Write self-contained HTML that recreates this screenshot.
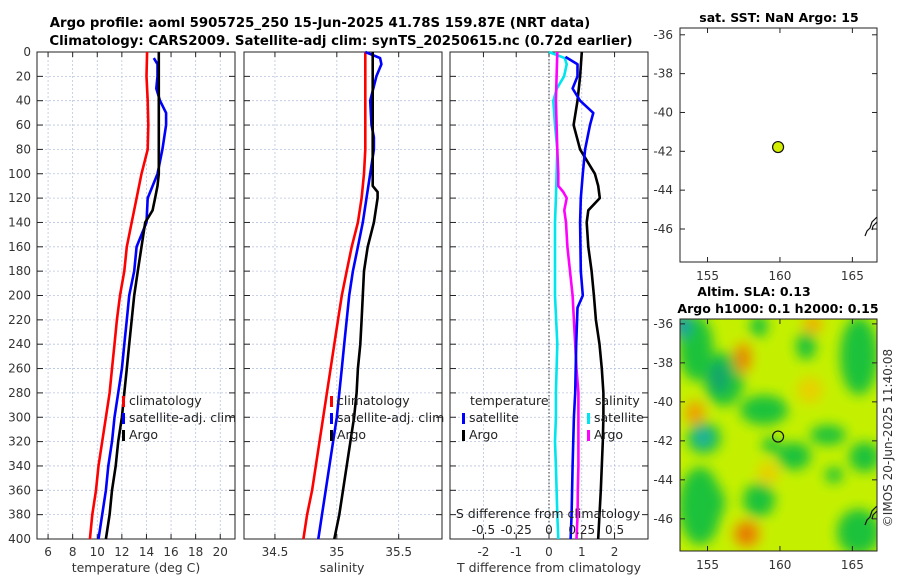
<!DOCTYPE html>
<html><head><meta charset="utf-8"><style>
body{margin:0;background:#fff;}
svg{display:block;font-family:"DejaVu Sans","Liberation Sans",sans-serif;}
</style></head><body>
<svg id="fig" width="900" height="580" viewBox="0 0 900 580">
<defs>
<filter id="blur" x="-20%" y="-20%" width="140%" height="140%"><feGaussianBlur stdDeviation="6"/></filter>
<clipPath id="mapclip"><rect x="680" y="319" width="197" height="232"/></clipPath>
</defs>
<text x="320" y="27" text-anchor="middle" font-weight="bold" font-size="13.3">Argo profile: aoml 5905725_250 15-Jun-2025 41.78S 159.87E (NRT data)</text>
<text x="341" y="45" text-anchor="middle" font-weight="bold" font-size="13.3">Climatology: CARS2009. Satellite-adj clim: synTS_20250615.nc (0.72d earlier)</text>
<g id="plots"></g>
</svg>
<script>
const depths=[0,20,40,60,80,100,120,140,160,180,200,220,240,260,280,300,320,340,360,380,400];
// temperature panel
const tClimD=[0,20,40,60,80,100,120,140,160,180,200,220,240,260,280,300,320,340,360,380,400];
const tClim=[14.05,14.0,14.1,14.15,14.1,13.6,13.2,12.8,12.4,12.2,11.85,11.6,11.4,11.2,11.0,10.7,10.4,10.1,9.9,9.6,9.4];
const tSatD=[5,10,20,30,40,50,60,80,100,120,140,160,180,200,220,240,260,280,300,320,340,360,380,400];
const tSat=[14.6,14.9,14.9,14.8,15.1,15.6,15.6,15.3,14.9,14.1,14.0,13.2,13.0,12.6,12.4,12.2,12.0,11.7,11.4,11.2,10.9,10.7,10.4,10.1];
const tArgoD=[0,20,40,60,80,100,110,120,130,140,160,180,200,220,240,260,280,300,320,340,360,380,400];
const tArgo=[15.0,15.0,15.0,15.0,15.0,15.0,14.9,14.7,14.5,13.9,13.6,13.3,13.0,12.8,12.6,12.4,12.2,12.0,11.7,11.5,11.2,11.0,10.7];
// salinity panel
const sClim=[35.23,35.23,35.23,35.23,35.23,35.22,35.20,35.17,35.12,35.08,35.04,35.01,34.98,34.95,34.92,34.89,34.86,34.83,34.80,34.76,34.73];
const sSatD=[0,5,10,20,40,60,70,80,100,120,140,160,180,200,220,240,260,280,300,320,340,360,380,400];
const sSat=[35.23,35.35,35.36,35.32,35.27,35.28,35.30,35.30,35.27,35.24,35.21,35.17,35.13,35.10,35.08,35.06,35.04,35.02,35.00,34.97,34.94,34.91,34.88,34.85];
const sArgoD=[0,20,40,60,80,100,110,115,120,140,160,180,200,220,240,260,280,300,320,340,360,380,400];
const sArgo=[35.29,35.29,35.29,35.29,35.29,35.29,35.29,35.33,35.33,35.30,35.25,35.22,35.21,35.20,35.19,35.17,35.16,35.14,35.11,35.08,35.05,35.02,34.98];
// difference panel
const dTSatD=[4,10,20,30,40,50,60,80,100,120,140,180,200,210,240,280,300,340,380,400];
const dTSat=[0.5,0.87,0.87,0.72,0.95,1.35,1.25,1.10,1.03,0.97,0.95,0.97,1.03,0.87,0.83,0.80,0.76,0.72,0.69,0.66];
const dTArgoD=[0,20,40,60,80,100,110,120,130,140,160,180,200,220,240,260,280,300,320,340,360,380,400];
const dTArgo=[1.0,0.95,0.87,0.75,0.95,1.40,1.50,1.55,1.20,1.15,1.20,1.30,1.37,1.43,1.54,1.61,1.66,1.66,1.64,1.61,1.58,1.54,1.50];
const dSSatD=[0,5,10,20,30,40,60,80,100,120,140,160,200,240,260,280,300,320,340,360,380,400];
const dSSat=[0.0,0.12,0.135,0.115,0.06,0.033,0.046,0.063,0.058,0.053,0.046,0.046,0.046,0.063,0.058,0.053,0.053,0.046,0.053,0.058,0.063,0.071];
const dSArgoD=[0,20,40,60,80,100,110,115,120,130,140,160,180,200,220,240,260,280,300,320,340,360,380,400];
const dSArgo=[0.063,0.058,0.053,0.058,0.063,0.071,0.071,0.109,0.135,0.117,0.13,0.14,0.16,0.18,0.19,0.2,0.21,0.224,0.224,0.224,0.224,0.22,0.218,0.21];
const tTicks=[6,8,10,12,14,16,18,20];
const sTicks=[34.5,35,35.5];
const dTTicks=[-2,-1,0,1,2];
const dSTicks=[-0.5,-0.25,0,0.25,0.5];
const lonTicks=[155,160,165];
const latTicks=[-36,-38,-40,-42,-44,-46];
const argoLon=159.87, argoLat=-41.78;

const NS='http://www.w3.org/2000/svg';
const root=document.getElementById('plots');
function el(tag,attrs,parent,text){const e=document.createElementNS(NS,tag);for(const k in attrs)e.setAttribute(k,attrs[k]);if(text!==undefined)e.textContent=text;(parent||root).appendChild(e);return e;}
const Y0=52,Y1=539;
const yD=d=>Y0+(d/400)*(Y1-Y0);
function xScale(x0,x1,v0,v1){return v=>x0+(v-v0)/(v1-v0)*(x1-x0);}
const xT=xScale(37,235,5.1,21.2);
const xS=xScale(244,442,34.25,35.85);
const xDT=xScale(450,648,-3.02,3.02);
const xDS=xScale(450,648,-0.755,0.755);

function frame(x0,x1,xs,ticks,name){
  const g=el('g',{});
  
  
  for(let d=20;d<400;d+=20){el('line',{x1:x0,x2:x1,y1:yD(d),y2:yD(d),stroke:'#b8c4e0','stroke-width':0.8,'stroke-dasharray':'2,2'},g);}
  ticks.forEach(t=>{el('line',{x1:xs(t),x2:xs(t),y1:Y0,y2:Y1,stroke:'#b8c4e0','stroke-width':0.8,'stroke-dasharray':'2,2'},g);
    el('line',{x1:xs(t),x2:xs(t),y1:Y1,y2:Y1-5,stroke:'#222'},g);el('line',{x1:xs(t),x2:xs(t),y1:Y0,y2:Y0+5,stroke:'#222'},g);});
  for(let d=0;d<=400;d+=20){el('line',{x1:x0,x2:x0+6,y1:yD(d),y2:yD(d),stroke:'#222'},g);el('line',{x1:x1,x2:x1-6,y1:yD(d),y2:yD(d),stroke:'#222'},g);}
  el('rect',{x:x0,y:Y0,width:x1-x0,height:Y1-Y0,fill:'none',stroke:'#222','stroke-width':1},g);
  return g;
}
function line(xs,vals,ds,color,name){
  const p=el('polyline',{points:vals.map((v,i)=>xs(v).toFixed(1)+','+yD(ds[i]).toFixed(1)).join(' '),fill:'none',stroke:color,'stroke-width':2.6,'stroke-linejoin':'round'});
  
  
}
function txt(x,y,s,opts,name){const t=el('text',Object.assign({x:x,y:y,'font-size':12,fill:'#333'},opts||{}),root,s);return t;}
function legend(x,y,color,label,name){
  const r=el('rect',{x:x,y:y-9,width:3,height:11,fill:color});
  
  txt(x+7,y,label,{fill:'#222','font-size':12.5},name);
}

frame(37,235,xT,tTicks,'temperature-panel');
for(let d=0;d<=400;d+=20)txt(31,yD(d)+4,String(d),{'text-anchor':'end'},'depth-tick-label');
tTicks.forEach(t=>txt(xT(t),556,String(t),{'text-anchor':'middle'},'temperature-tick-label'));
txt(136,572,'temperature (deg C)',{'text-anchor':'middle','font-size':12.5},'temperature-axis-title');
line(xT,tClim,tClimD,'#ff0000','temperature-climatology-line');
line(xT,tSat,tSatD,'#0000ff','temperature-satellite-line');
line(xT,tArgo,tArgoD,'#000000','temperature-argo-line');
legend(122,405,'#ff0000','climatology','legend-climatology');
legend(122,422,'#0000ff','satellite-adj. clim','legend-satellite-adj');
legend(122,439,'#000000','Argo','legend-argo');

frame(244,442,xS,sTicks,'salinity-panel');
sTicks.forEach(t=>txt(xS(t),556,String(t),{'text-anchor':'middle'},'salinity-tick-label'));
txt(342,572,'salinity',{'text-anchor':'middle','font-size':12.5},'salinity-axis-title');
line(xS,sClim,depths,'#ff0000','salinity-climatology-line');
line(xS,sSat,sSatD,'#0000ff','salinity-satellite-line');
line(xS,sArgo,sArgoD,'#000000','salinity-argo-line');
legend(330,405,'#ff0000','climatology','legend-s-climatology');
legend(330,422,'#0000ff','satellite-adj. clim','legend-s-satellite-adj');
legend(330,439,'#000000','Argo','legend-s-argo');

frame(450,648,xDT,dTTicks,'difference-panel');
const z=el('line',{x1:xDT(0),x2:xDT(0),y1:Y0,y2:Y1,stroke:'#555','stroke-width':1.2,'stroke-dasharray':'1.5,2'});

dTTicks.forEach(t=>txt(xDT(t),556,String(t),{'text-anchor':'middle'},'t-diff-tick-label'));
txt(549,572,'T difference from climatology',{'text-anchor':'middle','font-size':12.5},'t-diff-axis-title');
line(xDS,dSSat,dSSatD,'#00e5ee','s-diff-satellite-line');
line(xDS,dSArgo,dSArgoD,'#ff00ff','s-diff-argo-line');
line(xDT,dTArgo,dTArgoD,'#000000','t-diff-argo-line');
line(xDT,dTSat,dTSatD,'#0000ff','t-diff-satellite-line');
txt(548,518,'S difference from climatology',{'text-anchor':'middle','font-size':12.5,fill:'#222'},'s-diff-axis-title');
dSTicks.forEach(t=>txt(xDS(t),534,String(t),{'text-anchor':'middle','fill':'#222'},'s-diff-tick-label'));
txt(470,405,'temperature',{fill:'#222','font-size':12.5},'legend-temperature-heading');
legend(462,422,'#0000ff','satellite','legend-t-satellite');
legend(462,439,'#000000','Argo','legend-t-argo');
txt(595,405,'salinity',{fill:'#222','font-size':12.5},'legend-salinity-heading');
legend(587,422,'#00e5ee','satellite','legend-s-satellite');
legend(587,439,'#ff00ff','Argo','legend-s-argo-diff');

function mapFrame(y0,y1,lat0,lat1){
  const xL=xScale(680,877,153.1,166.7);
  const yL=v=>y0+(lat0-v)/(lat0-lat1)*(y1-y0);
  return {xL,yL};
}
const m1=mapFrame(28,262,-35.65,-47.7);
const r1=el('rect',{x:680,y:28,width:197,height:234,fill:'#fff',stroke:'#222'});

const m2=mapFrame(319,551,-35.75,-47.65);
const mg=el('g',{'clip-path':'url(#mapclip)'});

el('rect',{x:680,y:319,width:197,height:232,fill:'#c4f000'},mg);
const bg=el('g',{filter:'url(#blur)'},mg);
const blobs=[['#1fc23a',682,318,28,60],['#1fa0a0',676,314,12,22],['#1fc23a',707,355,34,48],['#17a66a',712,365,14,25],['#f0a000',737,345,12,26],['#e08000',740,352,6,12],
['#f0a000',688,404,14,18],['#1fc23a',690,425,28,26],['#20b0a0',697,430,12,14],['#1fc23a',743,398,42,24],['#1fc23a',753,318,12,16],['#f0b000',806,318,14,12],
['#1fc23a',843,320,32,72],['#1fc23a',780,445,28,22],['#1fc23a',813,428,30,14],['#1fc23a',682,470,36,72],['#1fc23a',746,486,26,28],['#f0a000',736,523,22,22],['#e07000',741,528,10,12],
['#1fc23a',852,445,25,24],['#1fc23a',840,512,37,40],['#1fc23a',799,335,14,22],['#1fc23a',710,490,12,25],['#e8d000',800,380,20,20],['#e8d000',760,465,16,16],['#1fc23a',765,440,12,10],['#1fc23a',828,470,12,10]];
blobs.forEach(b=>el('ellipse',{cx:b[1]+b[3]/2,cy:b[2]+b[4]/2,rx:b[3]/2+3,ry:b[4]/2+3,fill:b[0]},bg));
el('rect',{x:680,y:319,width:197,height:232,fill:'none',stroke:'#222'});

[[m1,28,262],[m2,319,551]].forEach(([m,y0,y1])=>{
  lonTicks.forEach(t=>{el('line',{x1:m.xL(t),x2:m.xL(t),y1:y1,y2:y1-5,stroke:'#222'});el('line',{x1:m.xL(t),x2:m.xL(t),y1:y0,y2:y0+5,stroke:'#222'});
    txt(m.xL(t),y1+18,String(t),{'text-anchor':'middle'},'longitude-tick-label');});
  latTicks.forEach(t=>{el('line',{x1:680,x2:685,y1:m.yL(t),y2:m.yL(t),stroke:'#222'});el('line',{x1:877,x2:872,y1:m.yL(t),y2:m.yL(t),stroke:'#222'});
    txt(673,m.yL(t)+4,String(t),{'text-anchor':'end'},'latitude-tick-label');});
  const c=el('path',{d:'M877 '+(y1-45)+' l-5 5 l-2 6 l-3 3 l-2 5 M877 '+(y1-40)+' l-4 4 l-1 4',fill:'none',stroke:'#111','stroke-width':1.2});
  
});
const mk1=el('circle',{cx:m1.xL(argoLon),cy:m1.yL(argoLat),r:5.5,fill:'#d4ee00',stroke:'#111','stroke-width':1.2});

const mk2=el('circle',{cx:m2.xL(argoLon),cy:m2.yL(argoLat),r:5.5,fill:'none',stroke:'#111','stroke-width':1.2});

txt(779,22,'sat. SST: NaN Argo: 15',{'text-anchor':'middle','font-weight':'bold','font-size':12.5,fill:'#000'},'sst-map-title');
txt(754,296,'Altim. SLA: 0.13',{'text-anchor':'middle','font-weight':'bold','font-size':12.5,fill:'#000'},'sla-map-title-1');
txt(778,313,'Argo h1000: 0.1 h2000: 0.15',{'text-anchor':'middle','font-weight':'bold','font-size':12.5,fill:'#000'},'sla-map-title-2');
txt(0,0,'©IMOS 20-Jun-2025 11:40:08',{'text-anchor':'middle','font-size':12,transform:'translate(892,438) rotate(-90)'},'timestamp-label');
</script>
</body></html>
